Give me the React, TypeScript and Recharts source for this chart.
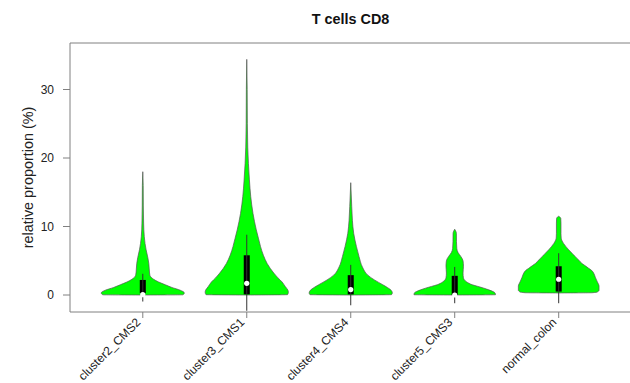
import React from 'react';
import { ComposedChart, Area, Line, XAxis, YAxis, ReferenceArea, Label } from 'recharts';

const categories = ['cluster2_CMS2', 'cluster3_CMS1', 'cluster4_CMS4', 'cluster5_CMS3', 'normal_colon'];
const xTicks = [1, 2, 3, 4, 5];
const yTicks = [0, 10, 20, 30];

// violin outline per group: [value, half-width relative to widest point]
const cluster2Density: [number, number][] = [
  [0, 0], [0.03, 0.96], [0.3, 1.0], [0.7, 0.9], [1.1, 0.7], [1.5, 0.54], [1.9, 0.38], [2.3, 0.26],
  [2.9, 0.17], [3.8, 0.155], [4.6, 0.145], [5.5, 0.12], [6.6, 0.08], [7.5, 0.055], [8.5, 0.036],
  [10.5, 0.02], [13, 0.013], [16, 0.01], [18, 0],
];
const cluster3Density: [number, number][] = [
  [0, 0], [0.05, 0.98], [0.4, 1.0], [0.7, 0.99], [1.2, 0.93], [1.9, 0.85], [2.5, 0.75], [3.2, 0.65],
  [4.6, 0.49], [5.8, 0.4], [7.1, 0.33], [8.3, 0.28], [9.5, 0.23], [11.9, 0.15], [14.4, 0.095],
  [16.8, 0.064], [19.2, 0.04], [21.6, 0.024], [25, 0.014], [30, 0.01], [34.4, 0],
];
const cluster4Density: [number, number][] = [
  [0, 0], [0.05, 0.98], [0.3, 1.0], [0.7, 0.97], [1.1, 0.88], [1.5, 0.77], [2.2, 0.57], [2.9, 0.41],
  [4.1, 0.28], [5.6, 0.2], [7.1, 0.136], [9.0, 0.071], [10.9, 0.04], [12.9, 0.024], [16.4, 0],
];
const cluster5Density: [number, number][] = [
  [0, 0], [0.04, 0.98], [0.3, 0.97], [0.5, 0.92], [0.75, 0.82], [1.0, 0.7], [1.25, 0.56], [1.5, 0.42],
  [1.9, 0.29], [2.5, 0.21], [3.2, 0.2], [4.2, 0.21], [5.0, 0.2], [5.6, 0.15], [6.2, 0.08], [6.8, 0.05],
  [7.8, 0.042], [9.0, 0.04], [9.6, 0],
];
const normalDensity: [number, number][] = [
  [0.3, 0], [0.33, 0.8], [0.45, 0.93], [0.7, 0.97], [1.3, 0.97], [1.9, 0.93], [2.6, 0.88], [3.2, 0.84],
  [3.6, 0.79], [3.9, 0.72], [4.3, 0.63], [4.6, 0.56], [5.1, 0.48], [5.6, 0.4], [6.1, 0.32], [6.6, 0.24],
  [7.1, 0.17], [7.5, 0.12], [8.0, 0.075], [8.3, 0.06], [9.0, 0.055], [10.5, 0.055], [11.2, 0.05], [11.5, 0],
];

// [lower whisker, q1, median, q3, upper whisker]
const cluster2Box = [-0.95, 0.25, 0.05, 2.2, 3.1];
const cluster3Box = [-2.3, 0.1, 1.7, 5.8, 8.8];
const cluster4Box = [-1.5, 0.1, 0.8, 2.9, 4.4];
const cluster5Box = [-1.2, 0.0, 0.0, 2.8, 4.1];
const normalBox = [-1.2, 0.5, 2.3, 4.2, 6.1];

const densities = [cluster2Density, cluster3Density, cluster4Density, cluster5Density, normalDensity];
const boxes = [cluster2Box, cluster3Box, cluster4Box, cluster5Box, normalBox];

const HALF = 0.4;
const BOX_HALF = 0.029;
const X_DOMAIN: [number, number] = [0.3, 5.705];
const Y_DOMAIN: [number, number] = [-2.48, 36.79];

const XTick = (props: any) => {
  const { x, y, payload } = props;
  const ax = x - 1.5;
  const ay = y + 3;
  return (
    <text x={ax} y={ay} textAnchor="end" transform={`rotate(-45 ${ax} ${ay})`} fontSize={12} fill="#222">
      {categories[payload.value - 1]}
    </text>
  );
};

const YLabel = (props: any) => {
  const { viewBox } = props;
  const cx = viewBox.x + 27.5;
  const cy = viewBox.y + viewBox.height / 2;
  return (
    <text x={cx} y={cy} transform={`rotate(-90 ${cx} ${cy})`} textAnchor="middle" dominantBaseline="central" fontSize={14.4} fill="#222">
      relative proportion (%)
    </text>
  );
};

export default function App() {
  return (
    <div style={{ position: 'relative', width: 630, height: 383, fontFamily: '"Liberation Sans", Arial, sans-serif', background: '#fff' }}>
      <style>{'body{margin:0}'}</style>
      <div style={{ position: 'absolute', left: 70, width: 561, top: 11, textAlign: 'center', fontSize: 14.4, fontWeight: 'bold', lineHeight: '16px', color: '#111' }}>
        T cells CD8
      </div>
      <ComposedChart width={630} height={383} layout="vertical" margin={{ top: 43, right: -2, bottom: 0, left: 0 }}>
        <XAxis
          type="number"
          domain={X_DOMAIN}
          ticks={xTicks}
          allowDataOverflow
          interval={0}
          height={71}
          axisLine={false}
          tickSize={6}
          tickLine={{ stroke: '#808080' }}
          tick={<XTick />}
        />
        <YAxis
          type="number"
          dataKey="v"
          domain={Y_DOMAIN}
          ticks={yTicks}
          reversed
          allowDataOverflow
          width={70}
          axisLine={false}
          tickSize={7}
          tickMargin={9}
          tickLine={{ stroke: '#808080' }}
          tick={{ fontSize: 12, fill: '#222' }}
        >
          <Label content={YLabel} />
        </YAxis>
        <ReferenceArea x1={X_DOMAIN[0]} x2={X_DOMAIN[1]} y1={Y_DOMAIN[0]} y2={Y_DOMAIN[1]} fill="none" stroke="#808080" ifOverflow="visible" />
        {densities.map((d, i) => (
          <Area
            key={'violin' + i}
            data={d.map(([v, w]) => ({ v, r: [i + 1 - w * HALF, i + 1 + w * HALF] }))}
            dataKey="r"
            type="monotone"
            fill="#00ff00"
            fillOpacity={1}
            stroke="#555"
            strokeWidth={0.7}
            dot={false}
            activeDot={false}
            isAnimationActive={false}
          />
        ))}
        {boxes.map((b, i) => (
          <Line
            key={'whisker' + i}
            data={[{ v: b[0], x: i + 1 }, { v: b[4], x: i + 1 }]}
            dataKey="x"
            type="linear"
            stroke="#333"
            strokeWidth={1}
            dot={false}
            activeDot={false}
            isAnimationActive={false}
          />
        ))}
        {boxes.map((b, i) => (
          <Area
            key={'box' + i}
            data={[{ v: b[1], r: [i + 1 - BOX_HALF, i + 1 + BOX_HALF] }, { v: b[3], r: [i + 1 - BOX_HALF, i + 1 + BOX_HALF] }]}
            dataKey="r"
            type="linear"
            fill="#000"
            fillOpacity={1}
            stroke="none"
            dot={false}
            activeDot={false}
            isAnimationActive={false}
          />
        ))}
        {boxes.map((b, i) => (
          <Line
            key={'median' + i}
            data={[{ v: b[2], x: i + 1 }]}
            dataKey="x"
            stroke="none"
            dot={{ r: 2.6, fill: '#fff', stroke: 'none' }}
            activeDot={false}
            isAnimationActive={false}
          />
        ))}
      </ComposedChart>
    </div>
  );
}
